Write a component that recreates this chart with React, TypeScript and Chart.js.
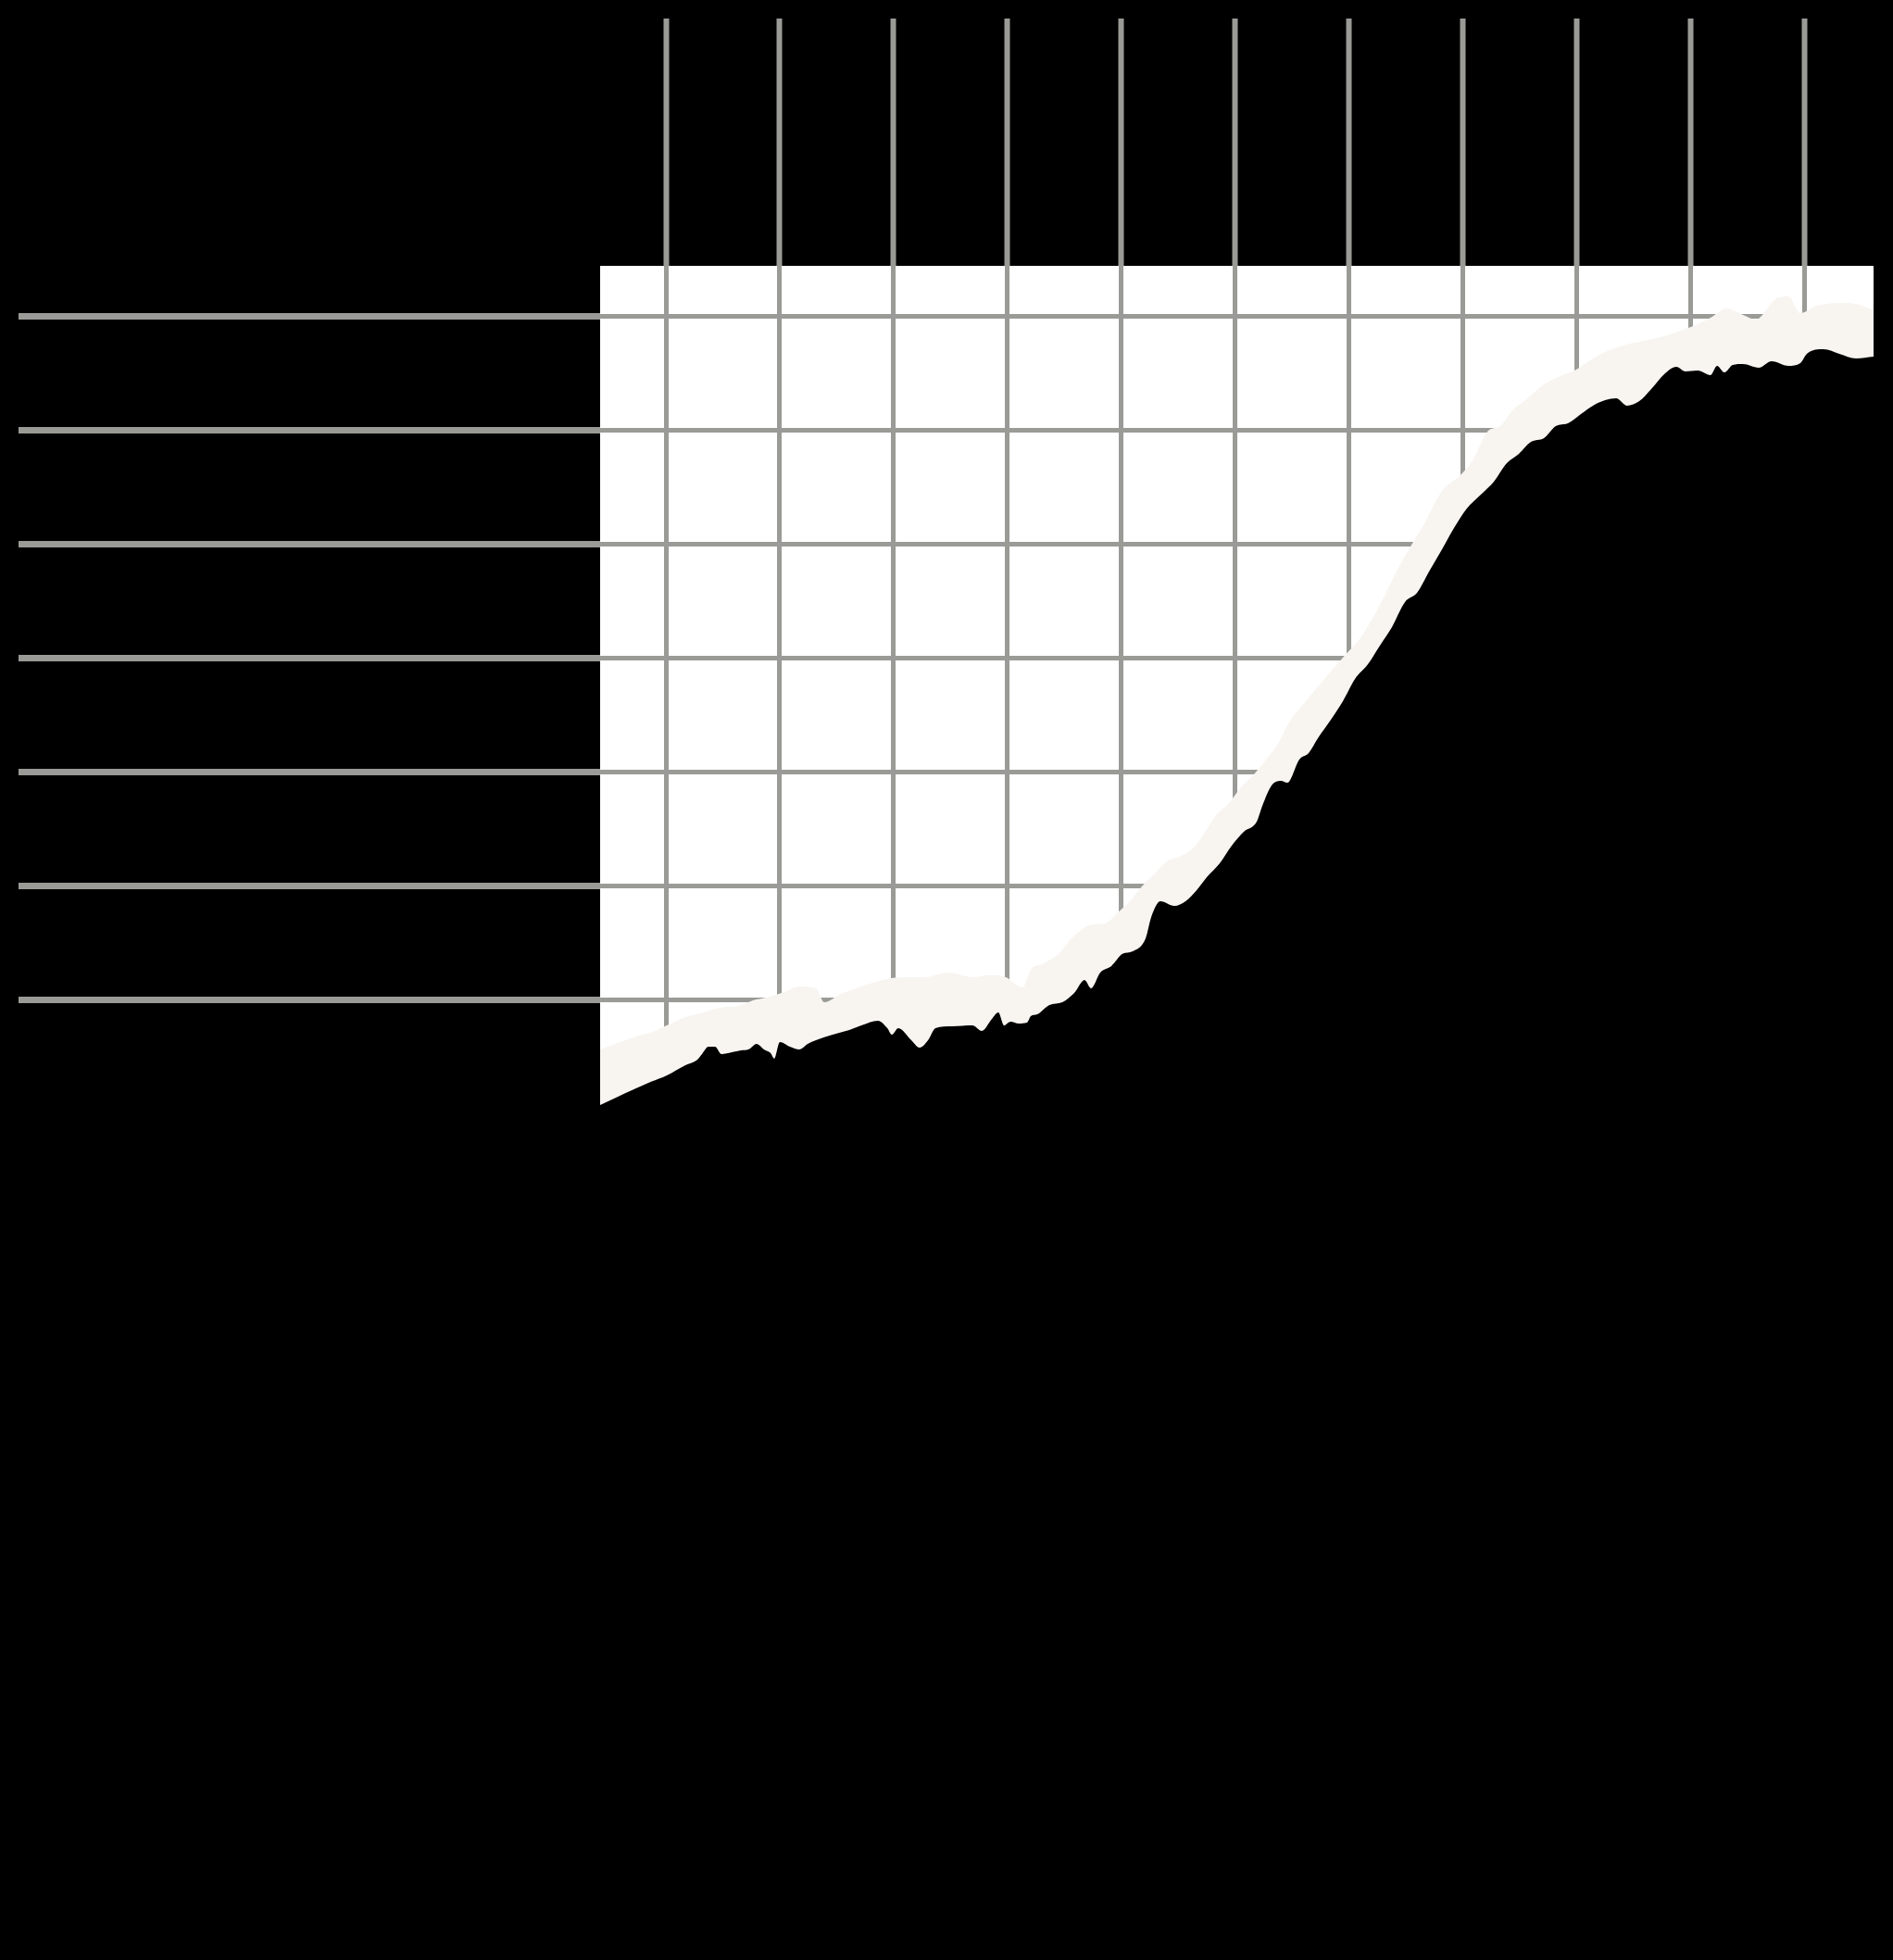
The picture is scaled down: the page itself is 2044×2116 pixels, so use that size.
import { useEffect, useRef } from "react";
import { Chart, registerables } from "chart.js";

Chart.register(...registerables);

// Tick values (labels are not visible in the reference: black on black)
const xTickValues = [0, 10, 20, 30, 40, 50, 60, 70, 80, 90, 100];
const yTickValues = [0, 10, 20, 30, 40, 50, 60];

// Lower series (black filled area)
const lowerX = [
  -5.78, -4.39, -2.77, -1.3, 0.08, 1.71, 2.69, 3.17, 3.74, 4.31, 4.88, 5.78, 6.59, 7.24, 7.97, 8.62,
  9.19, 9.52, 10.01, 10.9, 11.72, 12.45, 13.18, 14.65, 16.11, 17.17, 18.63, 19.45, 19.85, 20.42, 21.56,
  22.29, 23.03, 23.68, 25.14, 26.93, 27.75, 28.64, 29.21, 29.7, 30.27, 31.0, 31.73, 32.06, 32.63, 33.69,
  34.83, 35.88, 36.78, 37.35, 38.16, 39.14, 40.11, 41.01, 42.15, 42.64, 43.45, 44.67, 45.65, 46.7, 47.52,
  48.66, 49.71, 50.77, 51.91, 52.4, 53.21, 54.03, 54.6, 55.65, 56.47, 57.28, 58.42, 59.48, 60.54, 61.68,
  62.73, 63.79, 64.93, 65.99, 67.05, 68.19, 69.24, 70.3, 71.68, 72.74, 73.88, 74.94, 76.0, 77.14, 78.19,
  79.25, 80.39, 81.45, 82.51, 83.48, 84.46, 85.52, 86.57, 87.71, 88.77, 89.58, 90.64, 91.78, 92.35, 93.0,
  93.73, 94.63, 96.01, 97.15, 98.62, 99.67, 100.24, 101.71, 103.09, 104.56, 106.1,
];
const lowerY = [
  -9.19, -8.54, -7.8, -7.15, -6.59, -5.69, -5.28, -4.72, -4.07, -4.07, -4.72, -4.55, -4.39, -4.31, -3.82, -4.31,
  -4.63, -5.12, -3.66, -4.07, -4.31, -3.82, -3.5, -3.01, -2.6, -2.2, -1.79, -2.44, -3.01, -2.44, -3.5,
  -4.15, -3.5, -2.44, -2.28, -2.2, -2.68, -1.63, -1.06, -2.2, -1.87, -2.03, -1.95, -1.38, -1.22, -0.41,
  -0.16, 0.65, 1.79, 1.06, 2.44, 3.01, 4.07, 4.31, 5.45, 7.32, 8.7, 8.29, 8.7, 9.76, 10.81,
  12.03, 13.58, 14.8, 15.69, 17.07, 18.86, 19.27, 19.11, 21.14, 21.71, 23.01, 24.63, 26.26, 28.21, 29.51,
  31.14, 32.76, 34.96, 35.77, 37.64, 39.59, 41.46, 43.09, 44.47, 45.53, 47.15, 47.97, 49.02, 49.35, 50.41,
  50.65, 51.46, 52.2, 52.68, 52.85, 52.2, 52.6, 53.66, 54.96, 55.61, 55.2, 55.28, 54.88, 55.69, 55.12,
  55.77, 55.85, 55.53, 56.1, 55.69, 55.93, 56.75, 57.15, 56.75, 56.34, 56.5,
];

// Upper series (light band top edge)
const upperX = [
  -5.78, -4.23, -2.6, -0.98, 0.08, 1.71, 3.34, 4.72, 6.35, 7.65, 8.79, 10.41, 11.72, 13.18, 13.91, 15.38,
  17.17, 19.04, 20.83, 22.62, 24.82, 27.01, 28.48, 29.86, 31.33, 32.06, 33.2, 34.5, 35.64, 37.51, 38.57,
  39.71, 40.76, 41.82, 42.96, 44.02, 45.08, 46.22, 47.27, 48.33, 49.47, 50.53, 51.59, 52.73, 53.78, 54.6,
  56.23, 57.85, 59.48, 61.11, 62.73, 64.36, 65.42, 66.56, 68.19, 69.81, 70.87, 72.25, 73.31, 74.37, 75.51,
  77.14, 78.76, 79.98, 81.45, 83.08, 84.7, 86.33, 87.96, 89.58, 90.64, 91.78, 93.25, 94.63, 95.77, 97.48,
  98.62, 99.67, 101.14, 103.09, 104.56, 106.1,
];
const upperY = [
  -4.31, -3.74, -3.17, -2.68, -2.2, -1.46, -1.06, -0.65, -0.49, 0.0, 0.24, 0.73, 1.22, 1.06, -0.16, 0.57,
  1.22, 1.79, 2.03, 2.03, 2.44, 2.03, 2.2, 2.03, 1.14, 2.68, 3.25, 4.07, 5.45, 6.67, 6.75,
  7.72, 8.7, 10.0, 11.14, 12.2, 12.6, 13.25, 14.63, 16.26, 17.32, 18.7, 19.76, 21.14, 22.52, 24.15,
  26.26, 28.21, 30.08, 31.95, 34.72, 37.97, 39.84, 41.71, 44.72, 46.1, 47.4, 50.0, 50.41, 51.79, 52.68,
  54.07, 54.88, 55.37, 56.34, 57.15, 57.64, 57.97, 58.37, 58.94, 59.35, 59.92, 60.73, 60.16, 59.76, 61.54,
  61.79, 60.33, 60.98, 61.22, 61.14, 60.57,
];

const GRID = "#9a9a96";
const BAND = "#f8f5f1";

const backgrounds = {
  id: "backgrounds",
  beforeDraw(chart: any) {
    const { ctx, width, height, chartArea } = chart;
    ctx.save();
    ctx.fillStyle = "#000";
    ctx.fillRect(0, 0, width, height);
    ctx.fillStyle = "#fff";
    ctx.fillRect(chartArea.left, chartArea.top, chartArea.right - chartArea.left, chartArea.bottom - chartArea.top);
    ctx.restore();
  },
};

export default function App() {
  const ref = useRef<HTMLCanvasElement>(null);

  useEffect(() => {
    if (!ref.current) return;
    const chart = new Chart(ref.current, {
      type: "line",
      data: {
        datasets: [
          {
            label: "lower",
            data: lowerX.map((x, i) => ({ x, y: lowerY[i] })),
            borderWidth: 0,
            borderColor: "transparent",
            backgroundColor: "#000",
            fill: "start",
            pointRadius: 0,
            cubicInterpolationMode: "monotone",
          },
          {
            label: "upper",
            data: upperX.map((x, i) => ({ x, y: upperY[i] })),
            borderWidth: 0,
            borderColor: "transparent",
            backgroundColor: BAND,
            fill: "start",
            pointRadius: 0,
            cubicInterpolationMode: "monotone",
          },
        ],
      },
      options: {
        responsive: false,
        animation: false,
        devicePixelRatio: 1,
        layout: { padding: { left: 20, top: 20, right: 21, bottom: 704 } },
        plugins: { legend: { display: false }, tooltip: { enabled: false } },
        scales: {
          x: {
            type: "linear",
            position: "top",
            min: -5.78,
            max: 106.1,
            border: { display: false },
            grid: { color: GRID, lineWidth: 5, tickLength: 267, tickWidth: 6, tickColor: GRID },
            ticks: { display: false },
            afterBuildTicks: (s: any) => {
              s.ticks = xTickValues.map((v) => ({ value: v }));
            },
          },
          y: {
            type: "linear",
            position: "left",
            min: -27,
            max: 64.47,
            border: { display: false },
            grid: { color: GRID, lineWidth: 5, tickLength: 628, tickWidth: 7, tickColor: GRID },
            ticks: { display: false },
            afterBuildTicks: (s: any) => {
              s.ticks = yTickValues.map((v) => ({ value: v }));
            },
          },
        },
      } as any,
      plugins: [backgrounds],
    });
    return () => chart.destroy();
  }, []);

  return (
    <div style={{ position: "fixed", left: 0, top: 0, width: 2044, height: 2116, background: "#000" }}>
      <canvas ref={ref} width={2044} height={2116} style={{ display: "block" }} />
    </div>
  );
}
